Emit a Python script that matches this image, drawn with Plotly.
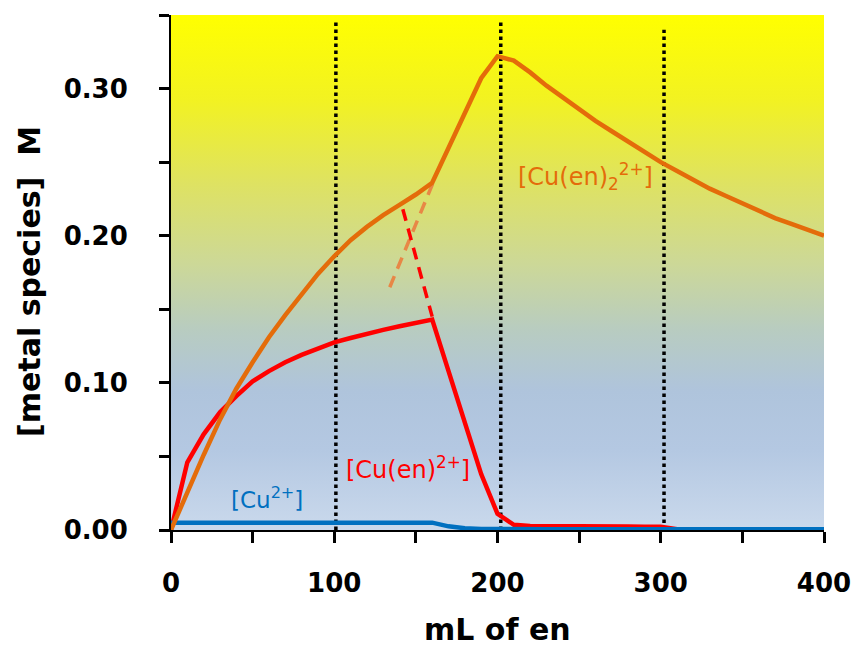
import base64
import plotly.graph_objects as go

# ---------------- data ----------------
ml_en = [0, 10, 20, 30, 40, 50, 60, 70, 80, 90, 100, 110, 120, 130, 140, 150, 160,
         170, 180, 190, 200, 210, 220, 230, 240, 250, 260, 270, 280, 290, 300,
         310, 320, 330, 340, 350, 360, 370, 380, 390, 400]

cu_en2 = [0.000, 0.026, 0.051, 0.075, 0.096, 0.114, 0.131, 0.146, 0.160, 0.174, 0.186,
          0.197, 0.206, 0.214, 0.221, 0.228, 0.236,
          0.260, 0.283, 0.307, 0.322, 0.319, 0.311, 0.302, 0.294, 0.286, 0.278, 0.271,
          0.264, 0.257, 0.250, 0.244, 0.238, 0.232, 0.227, 0.222, 0.217, 0.212, 0.208,
          0.204, 0.200]

cu_en = [0.000, 0.046, 0.065, 0.080, 0.091, 0.101, 0.108, 0.114, 0.119, 0.123, 0.1275,
         0.1305, 0.1335, 0.136, 0.1385, 0.141, 0.143,
         0.108, 0.073, 0.038, 0.011, 0.0035, 0.0028, 0.0026, 0.0025, 0.0024, 0.0024, 0.0023,
         0.0023, 0.0022, 0.0022, 0.0005, 0.0005, 0.0005, 0.0005, 0.0005, 0.0005, 0.0005,
         0.0005, 0.0005, 0.0005]

cu_free = [0.005, 0.005, 0.005, 0.005, 0.005, 0.005, 0.005, 0.005, 0.005, 0.005, 0.005,
           0.005, 0.005, 0.005, 0.005, 0.005, 0.005,
           0.0025, 0.0012, 0.0007, 0.0005, 0.0005, 0.0005, 0.0005, 0.0005, 0.0005, 0.0005,
           0.0005, 0.0005, 0.0005, 0.0005, 0.0005, 0.0005, 0.0005, 0.0005, 0.0005, 0.0005,
           0.0005, 0.0005, 0.0005, 0.0005]

# extrapolation (dashed) segments
orange_dash_x = [134, 162]
orange_dash_y = [0.165, 0.240]
red_dash_x = [142, 160]
red_dash_y = [0.218, 0.145]

# equivalence-point markers
vline_x = [101, 202, 302]
vline_top = [0.346, 0.346, 0.340]

x_tickvals = [0, 100, 200, 300, 400]
x_ticktext = ["0", "100", "200", "300", "400"]
y_tickvals = [0.00, 0.10, 0.20, 0.30]
y_ticktext = ["0.00", "0.10", "0.20", "0.30"]

ORANGE = "#E46C0A"
RED = "#FF0000"
BLUE = "#0070C0"
FONT = "DejaVu Sans"

# ---------------- background gradient ----------------
stops = [(0.000, "#FFFF00"), (0.165, "#F2F222"), (0.330, "#DEE263"), (0.485, "#CCD898"),
         (0.610, "#B8CCC0"), (0.730, "#AFC4DC"), (0.845, "#B4C8E2"), (1.000, "#CAD9EC")]
stop_xml = "".join(f'<stop offset="{o}" stop-color="{c}"/>' for o, c in stops)
svg = ('<svg xmlns="http://www.w3.org/2000/svg" width="100" height="100" viewBox="0 0 100 100" '
       'preserveAspectRatio="none"><defs><linearGradient id="g" x1="0" y1="0" x2="0" y2="1">'
       + stop_xml + '</linearGradient></defs><rect width="100" height="100" fill="url(#g)"/></svg>')
svg_uri = "data:image/svg+xml;base64," + base64.b64encode(svg.encode()).decode()

fig = go.Figure()

# vertical dotted lines
for vx, vt in zip(vline_x, vline_top):
    fig.add_trace(go.Scatter(x=[vx, vx], y=[0, vt], mode="lines",
                             line=dict(color="black", width=3.5, dash="3.5px,3.5px"),
                             hoverinfo="skip", showlegend=False))

fig.add_trace(go.Scatter(x=orange_dash_x, y=orange_dash_y, mode="lines",
                         line=dict(color="rgb(232,135,70)", width=3.5, dash="12px,8px"),
                         showlegend=False))
fig.add_trace(go.Scatter(x=red_dash_x, y=red_dash_y, mode="lines",
                         line=dict(color=RED, width=3.5, dash="12px,8px"),
                         showlegend=False))

fig.add_trace(go.Scatter(x=ml_en, y=cu_en, mode="lines", name="[Cu(en)]2+",
                         line=dict(color=RED, width=4.5), showlegend=False))
fig.add_trace(go.Scatter(x=ml_en, y=cu_free, mode="lines", name="[Cu2+]",
                         line=dict(color=BLUE, width=4.5), showlegend=False))
fig.add_trace(go.Scatter(x=ml_en, y=cu_en2, mode="lines", name="[Cu(en)2]2+",
                         line=dict(color=ORANGE, width=4.5), showlegend=False))

fig.update_layout(
    width=857, height=647,
    margin=dict(l=171, r=33, t=15, b=117, autoexpand=False),
    paper_bgcolor="white", plot_bgcolor="white",
    images=[dict(source=svg_uri, xref="x", yref="y", x=0, y=0.35, sizex=400, sizey=0.35,
                 sizing="stretch", layer="below", xanchor="left", yanchor="top")],
    xaxis=dict(range=[0, 400], tickvals=x_tickvals, ticktext=x_ticktext,
               ticks="outside", ticklen=11, tickwidth=2.5, tickcolor="black",
               minor=dict(dtick=50, tick0=0, ticks="outside", ticklen=11, tickwidth=2.5,
                          tickcolor="black", showgrid=False),
               showline=True, linecolor="black", linewidth=2, showgrid=False, zeroline=False,
               tickfont=dict(family=FONT, size=26, color="black", weight="bold"),
               ticklabelstandoff=18, layer="below traces", automargin=False),
    yaxis=dict(range=[0, 0.35], tickvals=y_tickvals, ticktext=y_ticktext,
               ticks="outside", ticklen=10, tickwidth=2.5, tickcolor="black",
               minor=dict(dtick=0.05, tick0=0, ticks="outside", ticklen=10, tickwidth=2.5,
                          tickcolor="black", showgrid=False),
               showline=True, linecolor="black", linewidth=2, showgrid=False, zeroline=False,
               tickfont=dict(family=FONT, size=26, color="black", weight="bold"),
               ticklabelstandoff=26, layer="below traces", automargin=False),
    annotations=[
        dict(text="mL of en", xref="paper", yref="paper", x=0.5, y=0, yshift=-99,
             xanchor="center", yanchor="middle", showarrow=False,
             font=dict(family=FONT, size=30, color="black", weight="bold")),
        dict(text="[metal species]\u00a0\u00a0M", xref="paper", yref="paper", x=0, y=0.4816,
             xshift=-141, xanchor="center", yanchor="middle", textangle=-90, showarrow=False,
             font=dict(family=FONT, size=30, color="black", weight="bold")),
        dict(text="[Cu(en)<sub>2</sub><sup>2+</sup>]", xref="x", yref="y", x=254, y=0.240,
             xanchor="center", yanchor="middle", showarrow=False,
             font=dict(family=FONT, size=24, color=ORANGE)),
        dict(text="[Cu(en)<sup>2+</sup>]", xref="x", yref="y", x=145, y=0.042,
             xanchor="center", yanchor="middle", showarrow=False,
             font=dict(family=FONT, size=24, color=RED)),
        dict(text="[Cu<sup>2+</sup>]", xref="x", yref="y", x=59, y=0.022,
             xanchor="center", yanchor="middle", showarrow=False,
             font=dict(family=FONT, size=23, color=BLUE)),
    ],
)

fig.write_html("out.html")
